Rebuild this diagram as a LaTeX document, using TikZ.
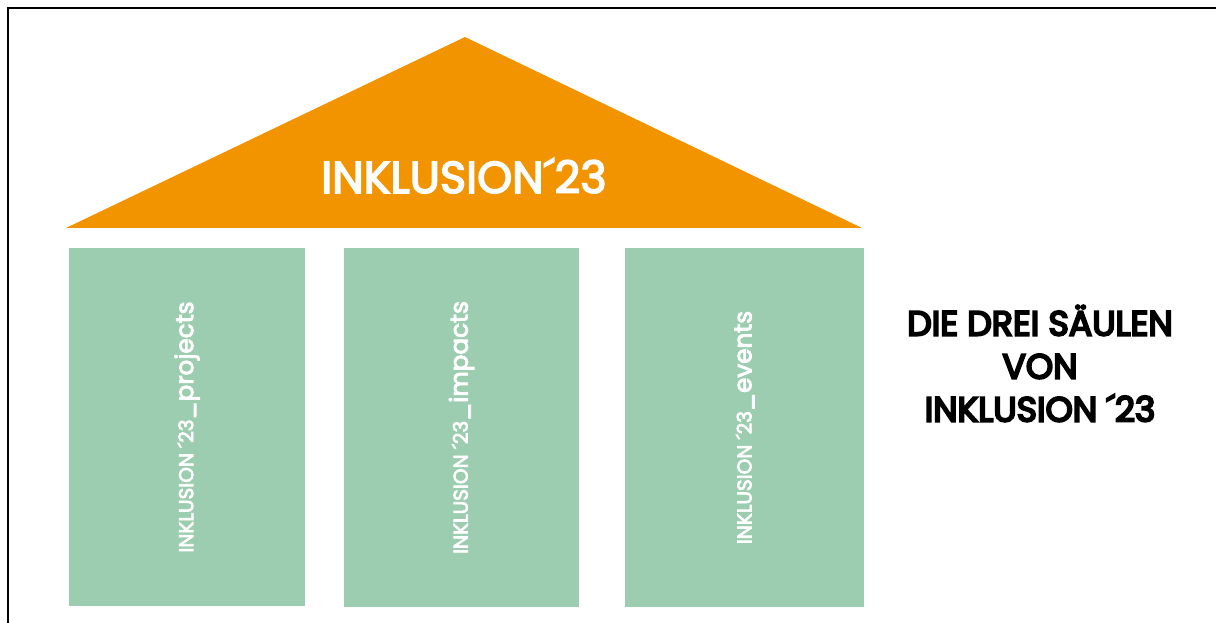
\documentclass[tikz,border=0pt]{standalone}
\usepackage{fontspec}
\setmainfont{Poppins}
\newfontfamily\popmedium[FakeBold=3.5]{Poppins}
\newfontfamily\popsemi[FakeBold=6]{Poppins}
\usepackage{graphicx}
\definecolor{roofcol}{HTML}{F29400}
\definecolor{pillarcol}{HTML}{9DCDB0}
\begin{document}
\begin{tikzpicture}[x=0.75pt,y=-0.75pt,
  pillar/.style={fill=pillarcol, draw=none, rotate=90, inner sep=0pt,
    minimum width=268.5pt, text=white},
  rooftxt/.style={anchor=base, text=white, inner sep=0pt,
    font=\popmedium\fontsize{33.5}{38}\selectfont},
  sidetxt/.style={anchor=south, align=center, inner sep=0pt,
    font=\popsemi\fontsize{26}{32.25}\selectfont}]
\useasboundingbox (0,0) rectangle (1216,623);

% frame along the top and left edges
\draw[line width=1.3pt] (8,623) -- (8,8) -- (1216,8);

% roof
\fill[roofcol] (66,228) -- (465,37) -- (862,228) -- cycle;
\node[rooftxt] (rooftitle) at (464,193) {INKLUSION´23};

% three pillars, text running bottom to top
\newcommand{\pillarlabel}[1]{\popmedium{\fontsize{15}{18}\selectfont INKLUSION ´23}{\fontsize{18.5}{22}\selectfont\_#1}}
\node[pillar, minimum height=177pt] (p1) at (187,427) {\pillarlabel{projects}};
\node[pillar, minimum height=176.25pt] (p2) at (461.5,427.5) {\pillarlabel{impacts}};
\node[pillar, minimum height=179.25pt] (p3) at (744.5,427.5) {\pillarlabel{events}};

% caption on the right
\node[sidetxt] (caption) at (1040,422) {DIE DREI SÄULEN\\VON\\INKLUSION ´23};
\end{tikzpicture}
\end{document}
